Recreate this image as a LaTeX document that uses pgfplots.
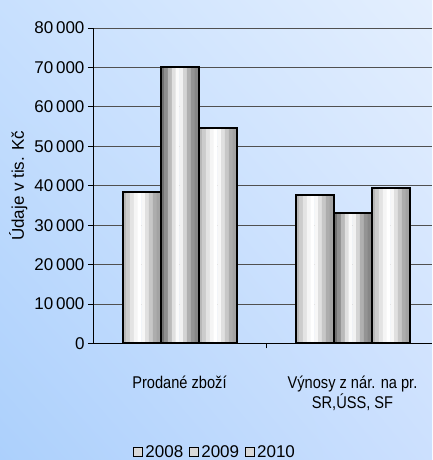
\documentclass[border=0pt]{standalone}
\usepackage{fontspec}
\setmainfont{Liberation Sans}
\newfontfamily\condfont{Liberation Sans}[FakeStretch=0.86]
\usepackage{pgfplots}
\usepackage{pgfplotstable}
\pgfplotsset{compat=1.18}
\usetikzlibrary{shadings}
\definecolor{bgLL}{RGB}{172,208,252}
\definecolor{bgUL}{RGB}{200,224,254}
\definecolor{bgUR}{RGB}{228,239,254}
\definecolor{bgLR}{RGB}{204,224,254}
\definecolor{gridc}{RGB}{80,80,80}
% light bars (2008, 2010)
\definecolor{sL0}{gray}{0.72}\definecolor{sL1}{gray}{0.80}\definecolor{sL2}{gray}{0.89}
\definecolor{sL3}{gray}{0.96}\definecolor{sL4}{gray}{1.00}\definecolor{sL5}{gray}{0.97}
\definecolor{sL6}{gray}{0.88}\definecolor{sL7}{gray}{0.78}\definecolor{sL8}{gray}{0.68}
\definecolor{sL9}{gray}{0.64}
% dark bar (2009)
\definecolor{sD0}{gray}{0.44}\definecolor{sD1}{gray}{0.56}\definecolor{sD2}{gray}{0.73}
\definecolor{sD3}{gray}{0.88}\definecolor{sD4}{gray}{0.98}\definecolor{sD5}{gray}{0.95}
\definecolor{sD6}{gray}{0.83}\definecolor{sD7}{gray}{0.69}\definecolor{sD8}{gray}{0.58}
\definecolor{sD9}{gray}{0.53}
\pgfplotstableread{
x y
0 38300
1 37600
}\dataA
\pgfplotstableread{
x y
0 70100
1 33200
}\dataB
\pgfplotstableread{
x y
0 54600
1 39500
}\dataC
\begin{document}
\begin{tikzpicture}
\useasboundingbox (0,0) rectangle (432pt,460pt);
\shade[lower left=bgLL, upper left=bgUL, upper right=bgUR, lower right=bgLR] (0,0) rectangle (432pt,460pt);
\begin{axis}[
  at={(93pt,116.5pt)}, anchor=south west,
  scale only axis, width=339pt, height=315.5pt,
  xmin=-0.5, xmax=1.4595, ymin=0, ymax=80000,
  axis x line*=bottom, axis y line*=left,
  axis line style={black, line width=0.9pt},
  ybar, bar width=38pt,
  ytick={0,10000,...,80000},
  scaled y ticks=false,
  y tick label style={font=\fontsize{17}{20}\selectfont, /pgf/number format/.cd, fixed, 1000 sep={\,}, assume math mode=true},
  ymajorgrids, grid style={gridc, line width=0.8pt},
  tick align=outside, major tick length=5pt,
  ytick style={black, line width=0.8pt},
  xtick={0,1},
  xticklabels={Prodané zboží, {Výnosy z nár. na pr.\\SR,ÚSS, SF}},
  x tick style={draw=none},
  xticklabel style={align=center, yshift=-24pt, font=\condfont\fontsize{17}{20}\selectfont},
  extra x ticks={0.5}, extra x tick labels={},
  extra x tick style={x tick style={draw=black, line width=0.8pt}, grid=none},
  ylabel={Údaje v tis. Kč},
  ylabel style={font=\fontsize{17}{20}\selectfont},
  legend style={at={(0.11,-0.345)}, anchor=west, draw=none, fill=none,
    font=\fontsize{17}{20}\selectfont, legend columns=3,
    /tikz/every even column/.append style={column sep=4pt}},
  legend image code/.code={\draw[black, fill=gray!30, line width=1pt] (0pt,-4.5pt) rectangle (9pt,4.5pt);},
]
% shaded stripes of each bar
\pgfplotsinvokeforeach{0,...,9}{
  \addplot[forget plot, draw=none, fill=sL#1, bar width=4.1pt, bar shift={-38pt-17.1pt+3.8pt*#1}] table[x=x,y=y] {\dataA};
  \addplot[forget plot, draw=none, fill=sD#1, bar width=4.1pt, bar shift={-17.1pt+3.8pt*#1}] table[x=x,y=y] {\dataB};
  \addplot[forget plot, draw=none, fill=sL#1, bar width=4.1pt, bar shift={38pt-17.1pt+3.8pt*#1}] table[x=x,y=y] {\dataC};
}
% outlines
\addplot[draw=black, line width=2pt, fill=none, bar shift=-38pt] table[x=x,y=y] {\dataA};
\addplot[draw=black, line width=2pt, fill=none, bar shift=0pt] table[x=x,y=y] {\dataB};
\addplot[draw=black, line width=2pt, fill=none, bar shift=38pt] table[x=x,y=y] {\dataC};
\legend{2008,2009,2010}
\end{axis}
\end{tikzpicture}
\end{document}
